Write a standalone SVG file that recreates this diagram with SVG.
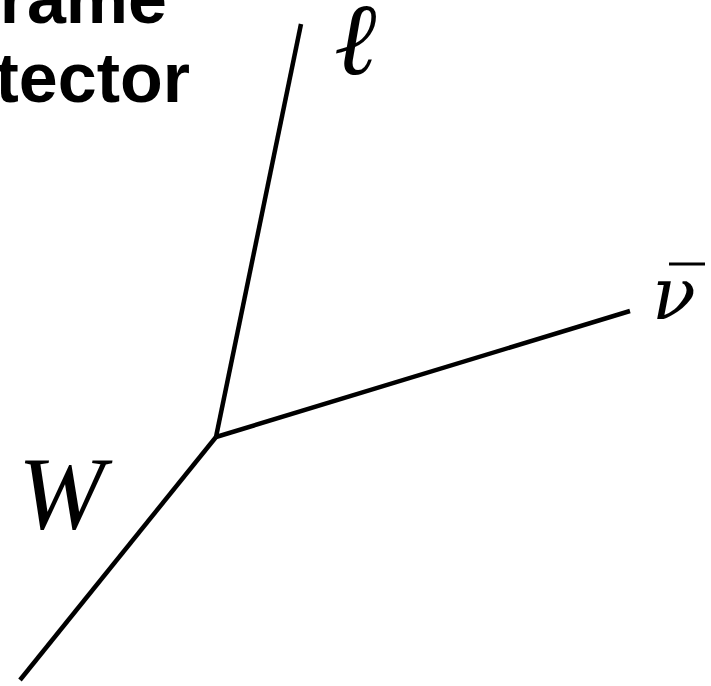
<svg xmlns="http://www.w3.org/2000/svg" width="711" height="686" viewBox="0 0 711 686">
<style>
.title{font-family:"Liberation Sans",Arial,sans-serif;font-weight:bold;font-size:70px;fill:#000}
.math{font-family:"Liberation Serif","DejaVu Serif",serif;font-style:italic;fill:#000}
.nu{font-family:"DejaVu Serif",serif;font-style:italic;fill:#000}
.line{stroke:#000;stroke-width:4.5;fill:none;stroke-linecap:butt}
</style>
<rect width="711" height="686" fill="#fff"/>
<g id="title">
<text class="title" x="167" y="23" text-anchor="end">rame</text>
<text class="title" x="190" y="102" text-anchor="end">tector</text>
</g>
<g id="connectors">
<line class="line" x1="216" y1="437" x2="301" y2="24"/>
<line class="line" x1="216" y1="437" x2="630" y2="311"/>
<line class="line" x1="216" y1="437" x2="20" y2="680"/>
</g>
<g id="lepton"><text class="math" x="334" y="74" font-size="102">ℓ</text></g>
<g id="antineutrino">
<text class="nu" x="652" y="319" font-size="72">ν</text>
<line x1="669" y1="264" x2="705" y2="264" stroke="#000" stroke-width="3"/>
</g>
<g id="W"><text class="math" x="18" y="528" font-size="104">W</text></g>
</svg>
